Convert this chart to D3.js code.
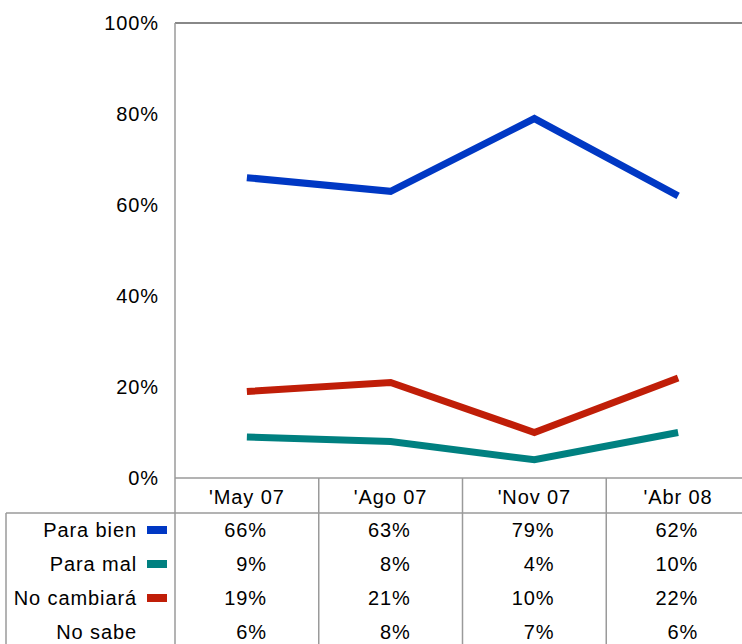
<!DOCTYPE html>
<html>
<head>
<meta charset="utf-8">
<script src="https://cdn.jsdelivr.net/npm/d3@7"></script>
<style>
  body { margin: 0; background: #fff; }
  text { font-family: "Liberation Sans", Arial, sans-serif; font-size: 20px; letter-spacing: 0.9px; fill: #000; }
</style>
</head>
<body>
<svg width="742" height="644"></svg>
<script>
// data
var categories = ["'May 07", "'Ago 07", "'Nov 07", "'Abr 08"];
var seriesNames = ["Para bien", "Para mal", "No cambiará", "No sabe"];
var paraBien = [66, 63, 79, 62];
var paraMal = [9, 8, 4, 10];
var noCambiara = [19, 21, 10, 22];
var noSabe = [6, 8, 7, 6];
var yTicks = [0, 20, 40, 60, 80, 100];

var series = [
  { name: seriesNames[0], values: paraBien, color: "#0038c4", line: true },
  { name: seriesNames[1], values: paraMal, color: "#008080", line: true },
  { name: seriesNames[2], values: noCambiara, color: "#c01e08", line: true },
  { name: seriesNames[3], values: noSabe, color: null, line: false }
];

var svg = d3.select("svg");
var plotLeft = 175, plotRight = 750, plotTop = 23, plotBottom = 478;
var rowH = 34, headerBottom = 513;
var gridColor = "#9a9a9a";

var x = d3.scaleBand().domain(categories).range([plotLeft, plotRight]).padding(0);
var cx = function (c) { return x(c) + x.bandwidth() / 2; };
var y = d3.scaleLinear().domain([0, 100]).range([plotBottom, plotTop]);

// y axis labels
svg.append("g").selectAll("text")
  .data(yTicks)
  .join("text")
  .attr("x", 159)
  .attr("y", function (d) { return y(d); })
  .attr("dy", "0.35em")
  .attr("text-anchor", "end")
  .text(function (d) { return d + "%"; });

// plot frame
svg.append("line").attr("x1", plotLeft).attr("x2", plotRight).attr("y1", plotTop).attr("y2", plotTop)
  .attr("stroke", "#888").attr("stroke-width", 2);

// lines
var line = d3.line()
  .x(function (d, i) { return cx(categories[i]); })
  .y(function (d) { return y(d); });

svg.append("g").selectAll("path")
  .data(series.filter(function (s) { return s.line; }))
  .join("path")
  .attr("d", function (s) { return line(s.values); })
  .attr("fill", "none")
  .attr("stroke", function (s) { return s.color; })
  .attr("stroke-width", 7)
  .attr("stroke-linejoin", "miter");

// table grid
var tableBottom = headerBottom + rowH * series.length;
var g = svg.append("g").attr("stroke", gridColor).attr("stroke-width", 1.5);
g.append("line").attr("x1", plotLeft).attr("x2", plotLeft).attr("y1", plotTop).attr("y2", 644);
g.append("line").attr("x1", plotLeft).attr("x2", plotRight).attr("y1", plotBottom).attr("y2", plotBottom);
g.append("line").attr("x1", 6).attr("x2", plotRight).attr("y1", headerBottom).attr("y2", headerBottom);
g.append("line").attr("x1", 6).attr("x2", 6).attr("y1", headerBottom).attr("y2", tableBottom);
g.selectAll(".col").data(categories.slice(1)).join("line")
  .attr("x1", function (c) { return x(c); }).attr("x2", function (c) { return x(c); })
  .attr("y1", plotBottom).attr("y2", tableBottom);

// header
svg.append("g").selectAll("text")
  .data(categories)
  .join("text")
  .attr("x", cx)
  .attr("y", (plotBottom + headerBottom) / 2 + 1)
  .attr("dy", "0.35em")
  .attr("text-anchor", "middle")
  .text(function (d) { return d; });

// rows
var rows = svg.append("g").selectAll("g")
  .data(series)
  .join("g")
  .attr("transform", function (s, i) { return "translate(0," + (headerBottom + rowH * i + rowH / 2) + ")"; });

rows.append("text")
  .attr("x", 137)
  .attr("dy", "0.35em")
  .attr("text-anchor", "end")
  .text(function (s) { return s.name; });

rows.filter(function (s) { return s.color; })
  .append("rect")
  .attr("x", 147).attr("y", -4)
  .attr("width", 20).attr("height", 8)
  .attr("fill", function (s) { return s.color; });

rows.selectAll(".val")
  .data(function (s) { return s.values; })
  .join("text")
  .attr("x", function (d, i) { return cx(categories[i]) + 20; })
  .attr("dy", "0.35em")
  .attr("text-anchor", "end")
  .text(function (d) { return d + "%"; });
</script>
</body>
</html>
